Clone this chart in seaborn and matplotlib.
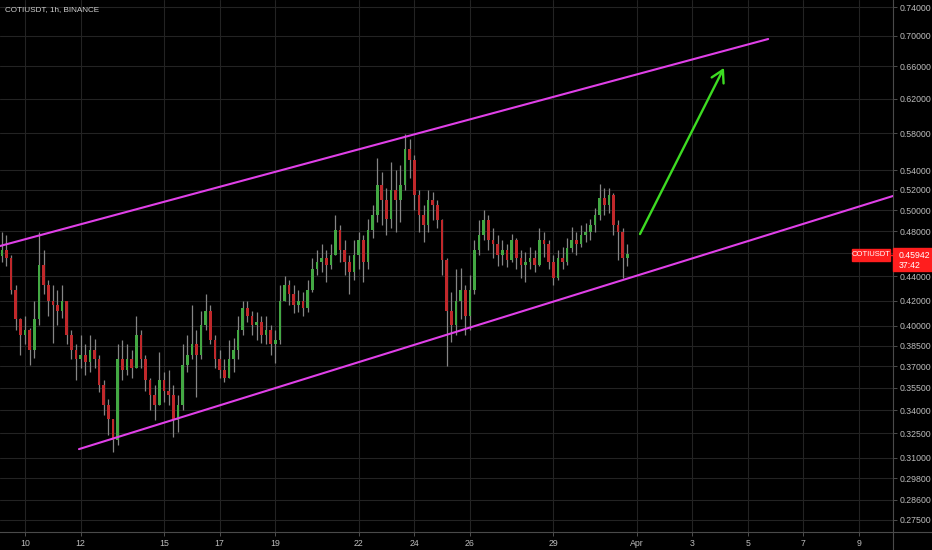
import numpy as np
import pandas as pd
import matplotlib
matplotlib.use("Agg")
import matplotlib.pyplot as plt
import matplotlib.ticker as mticker
from matplotlib.patches import Rectangle
from matplotlib.lines import Line2D
from matplotlib import font_manager
import seaborn as sns

# ---------------- data ----------------
symbol_title = "COTIUSDT, 1h, BINANCE"
first_candle = "2021-03-09 04:00"
candle_freq = "4h"

open_first = 0.458
close = [0.463, 0.456, 0.429, 0.405, 0.393, 0.397, 0.382, 0.405, 0.450, 0.433,
         0.420, 0.416, 0.412, 0.420, 0.393, 0.382, 0.375, 0.378, 0.373, 0.382,
         0.375, 0.357, 0.343, 0.334, 0.321, 0.375, 0.367, 0.375, 0.369, 0.393,
         0.375, 0.360, 0.350, 0.343, 0.360, 0.353, 0.350, 0.3335, 0.343, 0.371,
         0.378, 0.386, 0.378, 0.401, 0.412, 0.389, 0.375, 0.367, 0.362, 0.375,
         0.382, 0.397, 0.414, 0.408, 0.401, 0.403, 0.393, 0.397, 0.386, 0.389,
         0.420, 0.433, 0.425, 0.416, 0.420, 0.414, 0.429, 0.446, 0.452, 0.456,
         0.450, 0.459, 0.481, 0.463, 0.452, 0.444, 0.459, 0.472, 0.452, 0.481,
         0.495, 0.525, 0.510, 0.492, 0.520, 0.510, 0.525, 0.563, 0.551, 0.515,
         0.495, 0.486, 0.510, 0.505, 0.491, 0.454, 0.412, 0.401, 0.420, 0.429,
         0.408, 0.429, 0.463, 0.477, 0.491, 0.472, 0.468, 0.459, 0.463, 0.454,
         0.472, 0.456, 0.450, 0.452, 0.456, 0.450, 0.472, 0.468, 0.452, 0.439,
         0.456, 0.452, 0.465, 0.472, 0.468, 0.477, 0.479, 0.486, 0.495, 0.512,
         0.505, 0.515, 0.486, 0.479, 0.456, 0.45942]
high = [0.479, 0.477, 0.459, 0.433, 0.406, 0.408, 0.398, 0.420, 0.479, 0.463,
        0.437, 0.433, 0.429, 0.433, 0.420, 0.397, 0.386, 0.393, 0.386, 0.393,
        0.390, 0.378, 0.360, 0.347, 0.334, 0.386, 0.389, 0.386, 0.382, 0.408,
        0.397, 0.378, 0.362, 0.357, 0.380, 0.366, 0.367, 0.357, 0.350, 0.386,
        0.393, 0.416, 0.397, 0.412, 0.425, 0.416, 0.393, 0.382, 0.375, 0.389,
        0.391, 0.408, 0.420, 0.420, 0.412, 0.411, 0.408, 0.408, 0.401, 0.397,
        0.433, 0.440, 0.437, 0.433, 0.429, 0.427, 0.437, 0.456, 0.463, 0.468,
        0.463, 0.468, 0.495, 0.486, 0.472, 0.459, 0.472, 0.479, 0.477, 0.492,
        0.505, 0.553, 0.538, 0.522, 0.549, 0.540, 0.546, 0.579, 0.574, 0.556,
        0.520, 0.505, 0.520, 0.518, 0.510, 0.492, 0.456, 0.427, 0.446, 0.447,
        0.433, 0.441, 0.472, 0.491, 0.500, 0.495, 0.483, 0.477, 0.472, 0.468,
        0.478, 0.474, 0.463, 0.461, 0.466, 0.463, 0.483, 0.479, 0.472, 0.459,
        0.463, 0.466, 0.474, 0.484, 0.479, 0.486, 0.488, 0.492, 0.502, 0.526,
        0.522, 0.522, 0.517, 0.491, 0.483, 0.468]
low = [0.452, 0.449, 0.425, 0.397, 0.378, 0.386, 0.371, 0.376, 0.401, 0.425,
       0.408, 0.387, 0.401, 0.406, 0.386, 0.375, 0.360, 0.369, 0.364, 0.366,
       0.369, 0.352, 0.337, 0.324, 0.3135, 0.318, 0.360, 0.364, 0.362, 0.375,
       0.369, 0.353, 0.340, 0.3335, 0.347, 0.345, 0.343, 0.323, 0.326, 0.340,
       0.366, 0.375, 0.349, 0.375, 0.397, 0.386, 0.369, 0.362, 0.359, 0.364,
       0.366, 0.375, 0.393, 0.403, 0.393, 0.389, 0.387, 0.386, 0.378, 0.372,
       0.386, 0.420, 0.416, 0.410, 0.411, 0.408, 0.411, 0.427, 0.441, 0.444,
       0.435, 0.446, 0.459, 0.452, 0.441, 0.425, 0.437, 0.446, 0.435, 0.446,
       0.474, 0.489, 0.486, 0.477, 0.483, 0.479, 0.489, 0.520, 0.532, 0.500,
       0.479, 0.470, 0.479, 0.491, 0.483, 0.441, 0.370, 0.388, 0.393, 0.405,
       0.393, 0.397, 0.425, 0.459, 0.472, 0.463, 0.456, 0.449, 0.450, 0.448,
       0.452, 0.446, 0.439, 0.435, 0.446, 0.444, 0.449, 0.457, 0.446, 0.433,
       0.437, 0.446, 0.450, 0.461, 0.459, 0.466, 0.470, 0.472, 0.479, 0.491,
       0.495, 0.497, 0.477, 0.454, 0.439, 0.449]

last_price = 0.45942
countdown = "37:42"

y_ticks = [0.74, 0.70, 0.66, 0.62, 0.58, 0.54, 0.52, 0.50, 0.48, 0.46, 0.44,
           0.42, 0.40, 0.385, 0.37, 0.355, 0.34, 0.325, 0.31, 0.298, 0.286, 0.275]
x_tick_days = [10, 12, 15, 17, 19, 22, 24, 26, 29, 32, 34, 36, 38, 40]
x_tick_labels = ["10", "12", "15", "17", "19", "22", "24", "26", "29",
                 "Apr", "3", "5", "7", "9"]

upper_line_days = [9.10, 36.73]
upper_line_prices = [0.4666, 0.6957]
lower_line_days = [11.94, 41.22]
lower_line_prices = [0.3153, 0.5139]
arrow_from = (32.12, 0.4775)
arrow_to = (35.14, 0.658)

# ---------------- styling ----------------
W, H = 932, 550
BG = "#000000"
GRID = "#232323"
TXT = "#bdbdbd"
UP = "#43a843"
DOWN = "#c0282b"
WICK = "#858585"
MAGENTA = "#e040e8"
ARROW = "#3ddc22"
RED = "#ff1e1e"

sns.set_theme(style="dark", rc={"axes.facecolor": BG, "figure.facecolor": BG,
                                "savefig.facecolor": BG})
installed = {f.name for f in font_manager.fontManager.ttflist}
narrow = "Liberation Sans Narrow" if "Liberation Sans Narrow" in installed else "Liberation Sans"
plt.rcParams["font.family"] = [narrow, "DejaVu Sans"]
FS = 6.3

fig = plt.figure(figsize=(W / 100, H / 100), dpi=100)
ax = fig.add_axes([0, 18 / H, 893 / W, 532 / H])
ax.set_facecolor(BG)

times = pd.date_range(first_candle, periods=len(close), freq=candle_freq)
xday = ((times - pd.Timestamp("2021-03-01")).total_seconds() / 86400.0 + 1).to_numpy()

c = np.array(close)
o = np.concatenate([[open_first], c[:-1]])
h = np.maximum(np.array(high), np.maximum(o, c))
l = np.minimum(np.array(low), np.minimum(o, c))
up = c >= o

ax.vlines(xday, l, h, color=WICK, lw=0.9, zorder=2)
body_bottom = np.minimum(o, c)
body_h = np.maximum(np.abs(c - o), 0.0012)
ax.bar(xday, body_h, bottom=body_bottom, width=0.095,
       color=np.where(up, UP, DOWN), edgecolor="none", zorder=3)

sns.lineplot(x=upper_line_days, y=upper_line_prices, color=MAGENTA, lw=1.5,
             ax=ax, zorder=4)
sns.lineplot(x=lower_line_days, y=lower_line_prices, color=MAGENTA, lw=1.5,
             ax=ax, zorder=4)
ax.annotate("", xy=arrow_to, xytext=arrow_from,
            arrowprops=dict(arrowstyle="->,head_length=0.7,head_width=0.4",
                            color=ARROW, lw=1.7, shrinkA=0, shrinkB=0),
            zorder=5)

ax.set_yscale("log")
ax.set_ylim(0.2687, 0.7501)
ax.set_xlim(9.10, 41.22)
ax.yaxis.tick_right()
ax.set_yticks(y_ticks)
ax.yaxis.set_major_formatter(mticker.FixedFormatter(["%.5f" % v for v in y_ticks]))
ax.yaxis.set_minor_locator(mticker.NullLocator())
ax.set_xticks(x_tick_days)
ax.set_xticklabels(x_tick_labels)
ax.xaxis.set_minor_locator(mticker.NullLocator())
ax.tick_params(axis="y", colors="#5a5a5a", labelsize=FS, length=3, width=0.6,
               pad=2, labelcolor=TXT, right=True, left=False)
ax.tick_params(axis="x", colors="#5a5a5a", labelsize=FS, length=3, width=0.6,
               pad=2, labelcolor=TXT, bottom=True)
ax.grid(True, color=GRID, lw=0.8, zorder=0)
ax.set_axisbelow(True)
for s in ["top", "left"]:
    ax.spines[s].set_visible(False)
for s in ["right", "bottom"]:
    ax.spines[s].set_color("#4a4a4a")
    ax.spines[s].set_linewidth(0.8)
ax.set_xlabel("")
ax.set_ylabel("")
if ax.get_legend() is not None:
    ax.get_legend().remove()


def fx(px):
    return px / W


def fy(py):
    return 1 - py / H


fig.add_artist(Line2D([fx(893), fx(932)], [fy(532), fy(532)], color="#4a4a4a",
                      lw=0.8, transform=fig.transFigure))
fig.add_artist(Line2D([fx(893), fx(893)], [fy(532), fy(550)], color="#4a4a4a",
                      lw=0.8, transform=fig.transFigure))

fig.text(fx(5), fy(10), symbol_title, color="#d0d0d0", fontsize=5.9,
         ha="left", va="center")

# price labels
fig.add_artist(Rectangle((fx(893), fy(271)), fx(932) - fx(893), fy(248) - fy(271),
                         transform=fig.transFigure, color=RED, zorder=10))
fig.add_artist(Rectangle((fx(852), fy(261)), fx(890) - fx(852), fy(249) - fy(261),
                         transform=fig.transFigure, color=RED, zorder=10))
fig.add_artist(Line2D([fx(890), fx(896)], [fy(255), fy(255)], color=RED, lw=1,
                      transform=fig.transFigure, zorder=10))
fig.text(fx(899), fy(255), "%.5f" % last_price, color="white", fontsize=FS,
         ha="left", va="center", zorder=11)
fig.text(fx(899), fy(265.5), countdown, color="white", fontsize=FS,
         ha="left", va="center", zorder=11)
fig.text(fx(871), fy(255), "COTIUSDT", color="white", fontsize=5.5,
         ha="center", va="center", zorder=11)

fig.savefig("out.png", dpi=100, facecolor=BG)
